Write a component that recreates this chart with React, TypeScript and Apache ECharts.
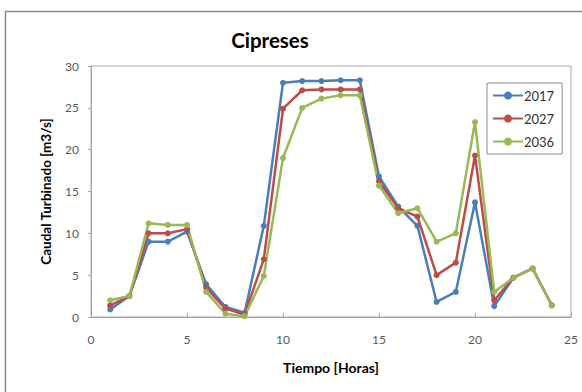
import React, { useEffect, useRef } from "react";
import * as echarts from "echarts";

const hours = [1, 2, 3, 4, 5, 6, 7, 8, 9, 10, 11, 12, 13, 14, 15, 16, 17, 18, 19, 20, 21, 22, 23, 24];
const s2017 = [0.9, 2.5, 9.0, 9.0, 10.2, 3.9, 1.2, 0.5, 10.9, 28.0, 28.2, 28.2, 28.3, 28.3, 16.8, 13.2, 10.9, 1.8, 3.0, 13.7, 1.3, 4.7, 5.8, 1.4];
const s2027 = [1.4, 2.5, 10.0, 10.0, 10.5, 3.5, 1.0, 0.3, 6.9, 24.9, 27.1, 27.2, 27.2, 27.2, 16.2, 13.0, 12.0, 5.0, 6.5, 19.3, 2.0, 4.7, 5.8, 1.4];
const s2036 = [2.0, 2.5, 11.2, 11.0, 11.0, 3.0, 0.4, 0.1, 4.9, 19.0, 25.0, 26.1, 26.5, 26.5, 15.7, 12.4, 13.0, 9.0, 10.0, 23.3, 3.0, 4.7, 5.8, 1.4];
const seriesNames = ["2017", "2027", "2036"];
const colors = ["#4A7EBB", "#BE4B48", "#98B954"];

export default function App() {
  const ref = useRef<HTMLDivElement>(null);
  useEffect(() => {
    const chart = echarts.init(ref.current!, null, { renderer: "svg" });
    const all = [s2017, s2027, s2036];
    chart.setOption({
      animation: false,
      backgroundColor: "#ffffff",
      textStyle: { fontFamily: "Lato" },
      title: {
        text: "Cipreses",
        left: 265,
        top: 24,
        textAlign: "center",
        textStyle: { fontSize: 20.5, fontWeight: "bold", color: "#000", fontFamily: "Lato" },
      },
      graphic: [
        {
          type: "rect",
          shape: { x: 5.5, y: 11.5, width: 600, height: 400 },
          style: { fill: "none", stroke: "#8c8c8c", lineWidth: 1.5 },
          z: 0,
        },
      ],
      legend: {
        orient: "vertical",
        left: 487,
        top: 83,
        width: 76,
        padding: [6, 8, 6, 5],
        itemGap: 10,
        itemWidth: 30,
        itemHeight: 10,
        borderColor: "#8c8c8c",
        borderWidth: 1,
        backgroundColor: "#fff",
        data: seriesNames,
        textStyle: { fontSize: 13, color: "#333", fontFamily: "Lato", padding: [0, 0, 0, -4] },
      },
      grid: { left: 91, right: 11, top: 66, bottom: 75, show: true, borderColor: "#a6a6a6", borderWidth: 1 },
      xAxis: {
        type: "value",
        min: 0,
        max: 25,
        interval: 5,
        name: "Tiempo [Horas]",
        nameLocation: "middle",
        nameGap: 43,
        nameTextStyle: { fontSize: 14, fontWeight: "bold", color: "#000", fontFamily: "Lato" },
        axisLine: { show: true, lineStyle: { color: "#a6a6a6" } },
        axisTick: { show: true, inside: true, length: 4, lineStyle: { color: "#a6a6a6" } },
        axisLabel: { fontSize: 12, color: "#595959", margin: 16, fontFamily: "Lato" },
        splitLine: { show: false },
      },
      yAxis: {
        type: "value",
        min: 0,
        max: 30,
        interval: 5,
        name: "Caudal Turbinado [m3/s]",
        nameLocation: "middle",
        nameGap: 38,
        nameTextStyle: { fontSize: 13.5, fontWeight: "bold", color: "#000", fontFamily: "Lato" },
        axisLine: { show: true, lineStyle: { color: "#a6a6a6" } },
        axisTick: { show: true, length: 3, lineStyle: { color: "#a6a6a6" } },
        axisLabel: { fontSize: 12, color: "#595959", margin: 12, fontFamily: "Lato" },
        splitLine: { show: false },
      },
      series: seriesNames.map((n, i) => ({
        name: n,
        type: "line",
        data: hours.map((h, j) => [h, all[i][j]]),
        symbol: "circle",
        symbolSize: 6,
        color: colors[i],
        lineStyle: { width: 2.5, color: colors[i] },
        itemStyle: { color: colors[i] },
      })),
    });
    return () => chart.dispose();
  }, []);
  return <div ref={ref} style={{ width: 582, height: 392, position: "absolute", left: 0, top: 0 }} />;
}
